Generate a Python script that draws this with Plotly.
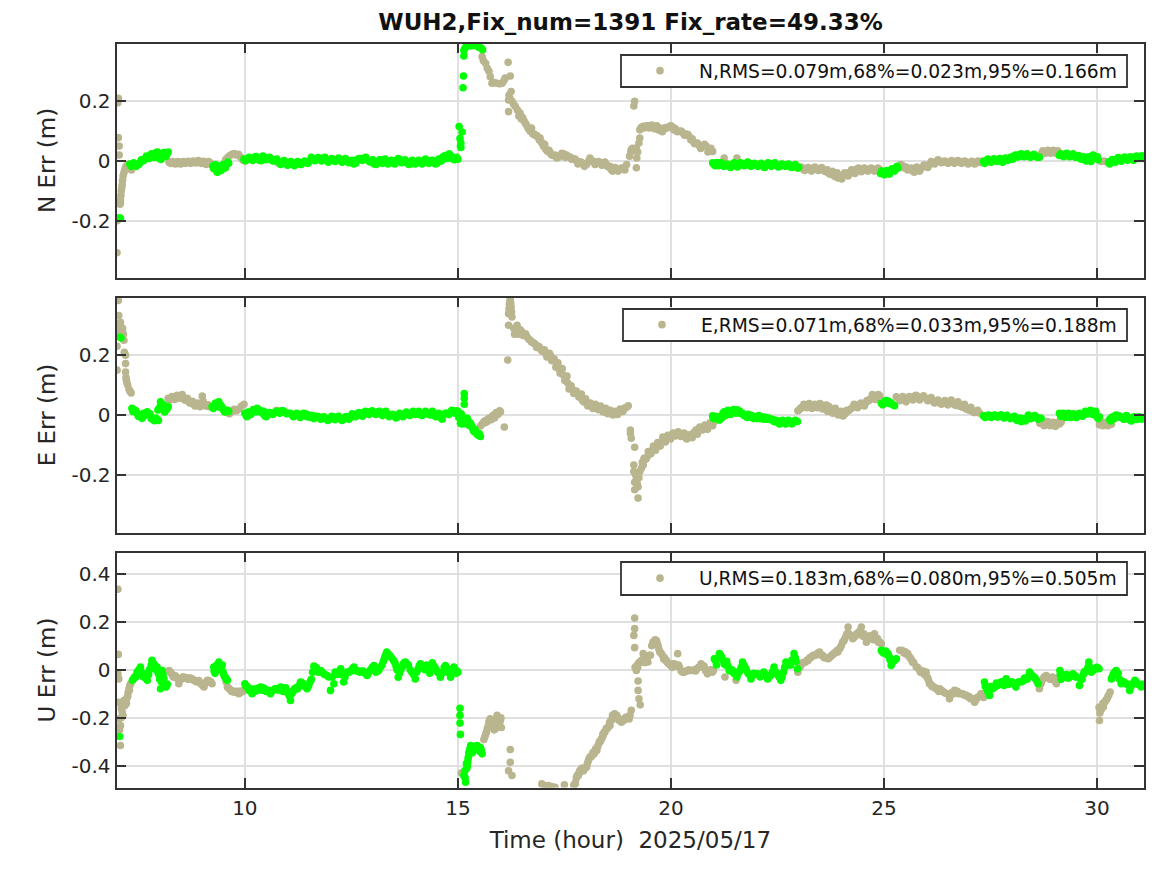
import plotly.graph_objects as go

TITLE = "WUH2,Fix_num=1391 Fix_rate=49.33%"
XLABEL = "Time (hour)  2025/05/17"
X_TICKS = [10, 15, 20, 25, 30]
N_TICKS = [-0.2, 0, 0.2]
E_TICKS = [-0.2, 0, 0.2]
U_TICKS = [-0.4, -0.2, 0, 0.2, 0.4]
N_TICKTEXT = ["-0.2", "0", "0.2"]
E_TICKTEXT = ["-0.2", "0", "0.2"]
U_TICKTEXT = ["-0.4", "-0.2", "0", "0.2", "0.4"]
N_NAME = "N,RMS=0.079m,68%=0.023m,95%=0.166m"
E_NAME = "E,RMS=0.071m,68%=0.033m,95%=0.188m"
U_NAME = "U,RMS=0.183m,68%=0.080m,95%=0.505m"

n_float_t = [7.0,7.0,7.02,7.03,7.03,7.05,7.05,7.07,7.08,7.08,7.09,7.1,7.11,7.12,7.13,7.14,7.16,7.18,7.2,7.23,7.26,7.3,7.34,
 8.22,8.28,8.34,8.4,8.46,8.52,8.58,8.64,8.7,8.76,8.82,8.88,8.94,9.0,9.06,9.12,9.18,9.22,
 9.55,9.6,9.65,9.7,9.75,9.8,9.85,9.9,9.95,10.0,10.72,10.78,
 15.57,15.6,15.65,15.69,15.73,15.76,15.8,15.86,15.92,15.98,16.04,16.08,16.11,16.18,16.19,16.19,16.2,16.22,16.23,16.25,16.27,16.31,16.35,16.4,16.46,16.52,16.58,16.64,16.7,16.76,16.82,16.88,16.93,16.97,17.01,17.06,17.11,17.17,17.24,17.32,17.4,17.48,17.55,17.63,17.7,17.79,17.85,17.92,18.02,18.06,18.1,18.18,18.26,18.34,18.41,18.48,18.54,18.6,18.66,18.72,18.8,18.88,18.96,19.03,19.06,19.07,19.1,19.13,19.15,19.17,19.19,19.19,19.2,19.22,19.25,19.27,19.27,19.3,19.35,19.4,19.46,19.52,19.58,19.64,19.7,19.77,19.83,19.9,19.97,20.03,20.1,20.2,20.28,20.36,20.43,20.5,20.59,20.66,20.74,20.83,20.9,20.98,21.25,21.55,
 23.02,23.1,23.18,23.26,23.34,23.42,23.5,23.57,23.64,23.7,23.76,23.82,23.87,23.92,23.98,24.04,24.12,24.2,24.28,24.36,24.43,24.5,24.58,24.66,24.74,24.82,24.9,
 25.34,25.37,25.44,25.52,25.6,25.68,25.74,25.8,25.88,25.99,26.07,26.15,26.23,26.31,26.39,26.47,26.55,26.62,26.7,26.78,26.86,26.94,27.02,27.09,27.17,27.25,27.32,
 28.7,28.76,28.82,28.88,28.94,29.0,29.06,29.1,30.1,30.17,30.24]
n_float_v = [-.307,-.2,.195,.21,.078,.05,.02,-.145,-.14,-.13,-.115,-.1,-.09,-.08,-.065,-.05,-.04,-.03,-.02,-.015,-.012,-.02,-.03,
 -.004,-.006,-.008,-.005,-.006,-.008,-.005,-.004,-.005,-.002,-.003,-.002,-.004,-.003,-.008,-.006,-.005,-.012,
 .005,.012,.018,.022,.025,.02,.022,.012,.003,0,-.002,-.006,
 .349,.335,.327,.31,.3,.282,.26,.262,.26,.258,.26,.268,.277,.33,.165,.204,.22,.21,.284,.232,.2,.19,.182,.17,.16,.145,.127,.112,.099,.09,.085,.08,.077,.06,.049,.04,.032,.027,.018,.01,.018,.024,.02,.013,.008,0,-.004,-.008,-.012,-.003,.01,-.001,-.007,-.005,-.007,-.012,-.02,-.029,-.028,-.032,-.029,-.025,-.012,.016,.03,.038,.042,.184,.2,.04,-.023,.043,.01,.03,.06,.077,.104,.112,.116,.114,.118,.115,.116,.112,.104,.1,.106,.11,.116,.114,.108,.099,.094,.09,.082,.074,.06,.052,.05,.049,.04,.032,.01,.01,
 -.022,-.027,-.026,-.028,-.025,-.026,-.029,-.03,-.036,-.04,-.045,-.04,-.05,-.057,-.05,-.046,-.046,-.038,-.032,-.028,-.029,-.03,-.028,-.03,-.028,-.03,-.029,
 -.02,-.018,-.016,-.02,-.026,-.034,-.03,-.028,-.024,-.018,-.012,-.006,-.003,0,-.002,-.005,-.003,-.004,-.002,-.004,-.003,-.006,-.005,-.004,-.006,-.003,0,
 .026,.03,.031,.03,.033,.029,.032,.028,-.002,0,-.004]
n_float2_t = [8.25,8.31,8.37,8.43,8.49,8.55,8.61,8.67,8.73,8.79,8.85,8.91,8.97,9.03,9.09,9.15,
 16.43,16.49,16.55,16.61,16.67,16.73,16.79,16.85,16.91,16.99,17.04,17.09,17.14,17.2,17.28,17.36,17.44,17.52,17.59,17.67,17.75,17.82,17.89,17.97,18.14,18.22,18.3,18.38,18.45,18.51,18.57,18.63,18.69,18.76,18.84,18.92,
 19.37,19.43,19.49,19.55,19.61,19.67,19.74,19.8,19.87,19.94,20.0,20.07,20.15,20.24,20.32,20.4,20.47,20.55,20.62,20.7,20.79,20.87,20.94,
 23.06,23.14,23.22,23.3,23.38,23.46,23.54,23.61,23.67,23.73,23.79,23.85,23.9,23.95,24.01,24.08,24.16,24.24,24.32,24.4,24.47,24.54,24.62,24.7,24.78,24.86,
 25.4,25.48,25.56,25.64,25.71,25.77,25.84,25.94,26.03,26.11,26.19,26.27,26.35,26.43,26.51,26.59,26.66,26.74,26.82,26.9,26.98,27.06,27.13,27.21,27.29,
 28.73,28.79,28.85,28.91,28.97,29.03,29.08]
n_float2_v = [-.008,-.002,-.01,-.002,-.01,-.002,-.008,-.001,-.008,.0,-.007,.001,-.008,-.001,-.012,-.002,
 .15,.14,.135,.12,.105,.11,.09,.085,.07,.06,.055,.035,.036,.02,.02,.012,.026,.012,.015,.006,.006,-.01,-.004,-.018,.0,-.012,-.002,-.014,-.004,-.018,-.018,-.034,-.022,-.034,-.024,-.03,
 .11,.118,.11,.12,.108,.118,.11,.098,.112,.112,.118,.104,.098,.1,.086,.088,.07,.058,.06,.042,.056,.03,.042,
 -.02,-.032,-.022,-.034,-.02,-.032,-.022,-.034,-.03,-.044,-.035,-.052,-.04,-.05,-.06,-.04,-.05,-.03,-.042,-.024,-.036,-.024,-.034,-.024,-.034,-.024,
 -.012,-.024,-.03,-.024,-.038,-.02,-.034,-.014,-.022,-.002,-.01,.004,-.006,.0,-.008,.001,-.008,.001,-.008,.0,-.01,-.001,-.01,.0,-.006,
 .034,.026,.036,.026,.036,.026,.034]
n_fix_t = [7.05,7.08,7.3,7.36,7.42,7.48,7.54,7.6,7.66,7.72,7.78,7.84,7.9,7.95,8.0,8.03,8.07,8.12,8.17,8.2,
 9.25,9.29,9.33,9.37,9.41,9.46,9.51,9.56,9.62,
 9.98,10.06,10.14,10.22,10.3,10.38,10.46,10.54,10.62,10.7,10.8,10.88,10.96,11.04,11.12,11.2,11.28,11.36,11.44,11.52,11.6,11.68,11.76,11.84,11.92,12.0,12.08,12.16,12.24,12.32,12.4,12.48,12.56,12.64,12.72,12.8,12.88,12.96,13.04,13.12,13.2,13.26,13.32,13.4,13.48,13.56,13.64,13.72,13.8,13.89,13.96,14.04,14.12,14.2,14.28,14.36,14.44,14.52,14.58,14.64,14.72,14.78,14.83,14.88,14.94,15.0,
 15.03,15.05,15.06,15.07,15.07,15.1,15.12,15.13,15.14,15.14,15.17,15.2,15.25,15.3,15.35,15.4,15.45,15.5,15.55,15.58,
 20.98,21.02,21.06,21.1,21.15,21.2,21.28,21.36,21.44,21.52,21.6,21.68,21.76,21.84,21.92,22.0,22.08,22.16,22.24,22.32,22.4,22.48,22.56,22.64,22.72,22.8,22.88,22.96,23.0,
 24.92,24.98,25.04,25.1,25.16,25.22,25.28,25.33,
 27.34,27.4,27.47,27.54,27.61,27.68,27.75,27.82,27.87,27.94,28.0,28.06,28.12,28.18,28.25,28.32,28.4,28.48,28.56,28.65,
 29.12,29.18,29.25,29.32,29.4,29.47,29.54,29.6,29.66,29.72,29.78,29.83,29.88,29.94,29.99,30.03,
 30.28,30.33,30.4,30.47,30.54,30.61,30.68,30.75,30.82,30.89,30.96,31.03,31.08]
n_fix_v = [-.19,-.192,-.01,-.015,-.012,-.012,-.005,.0,.008,.012,.018,.02,.022,.03,.02,.005,.012,.025,.022,.03,
 -.018,-.02,-.025,-.035,-.028,-.022,-.02,-.012,-.008,
 .006,.007,.008,.012,.008,.001,.012,.01,.005,.002,-.004,-.008,-.005,-.012,-.007,-.012,-.008,-.005,-.006,0,.008,.006,.005,.01,.002,.001,.004,.003,.005,0,-.002,-.004,-.01,.005,.008,.009,.003,-.004,-.01,-.006,.002,.001,-.005,-.006,-.006,.002,.005,-.002,-.006,-.01,-.004,-.006,-.006,-.003,.002,-.004,-.007,-.006,.002,.012,.018,.02,.01,.008,.005,.006,
 .115,.075,.05,.06,.045,.097,.245,.284,.351,.37,.378,.385,.387,.385,.388,.386,.388,.38,.378,.372,
 -.006,-.01,-.012,-.01,-.014,-.012,-.016,-.018,-.012,-.014,-.01,-.012,-.01,-.008,-.014,-.012,-.012,-.018,-.012,-.014,-.01,-.014,-.018,-.012,-.014,-.019,-.016,-.02,-.021,
 -.042,-.042,-.038,-.038,-.032,-.03,-.025,-.024,
 -.002,.001,.0,.002,.002,.004,.0,.005,.008,.006,.012,.016,.019,.02,.018,.019,.016,.018,.017,.012,
 .018,.02,.021,.02,.018,.017,.012,.012,.009,.004,.01,.002,.015,.016,.008,.004,
 -.004,0,.002,.006,.004,.008,.006,.01,.008,.012,.014,.014,.008]
n_fix2_t = [7.33,7.39,7.45,7.51,7.57,7.63,7.69,7.75,7.81,7.87,7.92,7.98,8.05,8.1,8.15,
 9.27,9.31,9.35,9.39,9.44,9.49,9.54,9.6,
 10.02,10.1,10.18,10.26,10.34,10.42,10.5,10.58,10.66,10.75,10.84,10.92,11.0,11.08,11.16,11.24,11.32,11.4,11.48,11.56,11.64,11.72,11.8,11.88,11.96,12.04,12.12,12.2,12.28,12.36,12.44,12.52,12.6,12.68,12.76,12.84,12.92,13.0,13.08,13.16,13.23,13.29,13.36,13.44,13.52,13.6,13.68,13.76,13.85,13.93,14.0,14.08,14.16,14.24,14.32,14.4,14.48,14.55,14.61,14.68,14.75,14.8,14.86,14.91,14.97,
 21.0,21.04,21.08,21.12,21.18,21.24,21.32,21.4,21.48,21.56,21.64,21.72,21.8,21.88,21.96,22.04,22.12,22.2,22.28,22.36,22.44,22.52,22.6,22.68,22.76,22.84,22.92,22.98,
 24.95,25.01,25.07,25.13,25.19,25.25,25.31,
 27.37,27.44,27.51,27.58,27.65,27.72,27.79,27.85,27.91,27.97,28.03,28.09,28.15,28.22,28.29,28.36,28.44,28.52,28.6,
 29.15,29.22,29.29,29.36,29.44,29.5,29.57,29.63,29.69,29.75,29.81,29.86,29.91,29.97,30.01,
 30.3,30.36,30.43,30.5,30.57,30.65,30.72,30.79,30.86,30.93,31.0,31.06]
n_fix2_v = [-.018,-.006,-.018,-.012,.004,.002,.016,.008,.024,.012,.028,.01,.014,.028,.016,
 -.026,-.012,-.038,-.018,-.032,-.012,-.024,-.004,
 .001,.012,.002,.015,.002,.016,.004,.012,.0,.006,-.012,.001,-.014,-.002,-.016,-.002,-.012,.0,-.008,.012,.001,.011,.0,.012,-.004,.008,-.002,.01,-.004,.008,-.006,.002,-.008,.008,.002,.012,-.002,.004,-.012,.004,-.008,.006,-.01,.002,-.01,.008,-.006,.004,-.012,.002,-.01,.002,-.01,.006,-.008,.002,-.01,.006,.0,.016,.008,.024,.014,.004,.012,
 -.01,-.016,-.005,-.016,-.006,-.018,-.01,-.022,-.006,-.02,-.006,-.016,-.004,-.018,-.008,-.018,-.008,-.022,-.006,-.018,-.006,-.02,-.01,-.018,-.01,-.022,-.012,-.024,
 -.034,-.046,-.032,-.044,-.026,-.034,-.018,
 -.008,.006,-.004,.007,-.002,.008,-.004,.01,.002,.012,.006,.02,.013,.024,.014,.024,.012,.022,.012,
 .024,.014,.026,.014,.024,.012,.018,.006,.014,.0,.014,-.002,.02,.01,.014,
 -.01,.005,-.004,.011,-.001,.013,.002,.014,.002,.016,.008,.017]

e_float_t = [7.0,7.0,7.0,7.03,7.03,7.04,7.06,7.08,7.09,7.1,7.12,7.13,7.15,7.16,7.17,7.18,7.2,7.2,7.2,7.21,7.22,7.23,7.25,7.28,7.3,7.33,
 8.2,8.26,8.32,8.38,8.44,8.5,8.56,8.62,8.68,8.74,8.8,8.86,8.92,9.0,9.0,9.05,9.11,9.17,
 9.58,9.64,9.7,9.75,9.8,9.86,9.92,9.98,10.75,
 15.53,15.57,15.61,15.66,15.71,15.76,15.8,15.84,15.88,15.92,15.96,16.0,16.09,16.17,16.19,16.19,16.2,16.21,16.22,16.23,16.24,16.25,16.26,16.27,16.31,16.35,16.39,16.44,16.5,16.56,16.62,16.7,16.76,16.82,16.88,16.93,17.0,17.06,17.12,17.17,17.23,17.28,17.32,17.37,17.42,17.48,17.53,17.58,17.63,17.69,17.75,17.81,17.87,17.92,17.97,18.02,18.08,18.14,18.2,18.26,18.32,18.38,18.44,18.49,18.55,18.61,18.67,18.72,18.78,18.84,18.9,18.96,19.0,
 19.05,19.05,19.07,19.15,19.13,19.13,19.15,19.15,19.17,19.19,19.21,19.23,19.23,19.25,19.27,19.31,19.35,19.39,19.44,19.5,19.56,19.61,19.66,19.72,19.78,19.84,19.89,19.96,20.02,20.08,20.13,20.2,20.27,20.34,20.4,20.46,20.53,20.59,20.65,20.71,20.77,20.83,20.89,20.95,21.02,21.18,
 22.98,23.02,23.08,23.15,23.22,23.28,23.34,23.41,23.47,23.53,23.59,23.65,23.71,23.77,23.83,23.89,23.96,24.04,24.1,24.17,24.27,24.34,24.42,24.5,24.57,24.64,24.7,24.77,24.84,24.9,
 25.29,25.34,25.4,25.49,25.56,25.64,25.72,25.8,25.88,25.99,26.07,26.15,26.23,26.31,26.39,26.47,26.54,26.62,26.7,26.78,26.85,26.93,27.0,27.08,27.16,27.25,
 28.66,28.73,28.8,28.87,28.94,29.0,29.06,29.12,29.16,30.06,30.11,30.17,30.23,30.29,30.34]
e_float_v = [.15,.23,.289,.383,.28,.333,.3,.31,.27,.285,.283,.29,.27,.25,.21,.205,.2,.172,.144,.125,.117,.108,.1,.086,.08,.074,
 .056,.056,.06,.062,.063,.063,.055,.05,.044,.04,.036,.033,.034,.063,.04,.036,.03,.028,
 .008,.004,.012,.019,.014,.02,.03,.036,.016,
 -.037,-.03,-.022,-.018,-.014,-.011,-.008,-.004,.003,.006,.009,.011,-.04,.184,.3,.339,.355,.37,.38,.389,.375,.361,.345,.328,.29,.278,.3,.285,.278,.27,.262,.25,.242,.236,.23,.222,.212,.206,.2,.2,.188,.18,.172,.155,.145,.133,.12,.107,.094,.085,.076,.072,.067,.05,.045,.039,.036,.034,.03,.028,.024,.02,.015,.011,.008,.008,.006,.006,.008,.014,.02,.026,.031,
 -.05,-.062,-.078,-.108,-.167,-.189,-.25,-.225,-.2,-.215,-.23,-.278,-.24,-.21,-.189,-.178,-.167,-.15,-.14,-.128,-.118,-.112,-.106,-.096,-.09,-.082,-.078,-.074,-.07,-.064,-.061,-.066,-.068,-.07,-.074,-.068,-.06,-.05,-.046,-.042,-.042,-.041,-.036,-.03,-.022,-.012,
 .014,.018,.024,.03,.033,.028,.028,.026,.028,.03,.032,.033,.028,.02,.017,.012,.008,-.003,.006,.014,.026,.028,.032,.033,.04,.048,.056,.06,.063,.064,
 .061,.055,.05,.05,.055,.058,.063,.06,.058,.056,.05,.046,.044,.041,.04,.042,.044,.038,.032,.03,.026,.02,.016,.012,.01,.006,
 -.028,-.03,-.026,-.028,-.033,-.036,-.026,-.03,-.024,-.033,-.03,-.031,-.032,-.03,-.031]
e_float2_t = [8.23,8.29,8.35,8.41,8.47,8.53,8.59,8.65,8.71,8.77,8.83,8.89,8.95,9.02,9.08,9.14,
 15.64,15.69,15.74,15.78,15.82,15.86,15.9,15.94,15.98,
 16.33,16.37,16.42,16.47,16.53,16.59,16.66,16.73,16.79,16.85,16.91,16.97,17.03,17.09,17.15,17.2,17.26,17.3,17.35,17.4,17.45,17.51,17.56,17.61,17.66,17.72,17.78,17.84,17.9,17.95,18.0,18.05,18.11,18.17,18.23,18.29,18.35,18.41,18.47,18.52,18.58,18.64,18.7,18.75,18.81,18.87,18.93,
 19.33,19.37,19.42,19.47,19.53,19.59,19.64,19.69,19.75,19.81,19.87,19.93,19.99,20.05,20.11,20.17,20.24,20.31,20.37,20.43,20.5,20.56,20.62,20.68,20.74,20.8,20.86,20.92,20.98,
 23.05,23.12,23.19,23.25,23.31,23.38,23.44,23.5,23.56,23.62,23.68,23.74,23.8,23.86,23.93,24.0,24.07,24.13,24.22,24.3,24.38,24.46,24.54,24.6,24.67,24.73,24.8,24.87,
 25.37,25.44,25.52,25.6,25.68,25.76,25.84,25.93,26.03,26.11,26.19,26.27,26.35,26.43,26.5,26.58,26.66,26.74,26.82,26.89,26.96,27.04,27.12,27.2,
 28.7,28.76,28.84,28.9,28.97,29.03,29.09,30.08,30.14,30.2,30.26,30.32]
e_float2_v = [.05,.062,.052,.066,.056,.068,.05,.056,.04,.046,.03,.04,.028,.046,.03,.034,
 -.026,-.022,-.01,-.016,-.002,-.01,.008,.002,.014,
 .27,.286,.27,.284,.266,.272,.254,.244,.24,.226,.228,.215,.218,.194,.206,.182,.188,.16,.175,.14,.155,.115,.13,.087,.098,.072,.08,.06,.07,.044,.054,.03,.04,.022,.036,.018,.03,.01,.022,.004,.016,.0,.012,.002,.02,.012,.024,
 -.158,-.145,-.146,-.122,-.13,-.104,-.118,-.092,-.104,-.074,-.09,-.068,-.08,-.06,-.07,-.056,-.072,-.06,-.08,-.066,-.076,-.056,-.064,-.04,-.05,-.034,-.048,-.026,-.036,
 .024,.036,.024,.038,.022,.036,.024,.038,.02,.032,.012,.022,.006,.022,.0,.012,.002,.016,.02,.036,.024,.04,.03,.048,.052,.068,.052,.068,
 .048,.062,.044,.062,.05,.066,.05,.064,.048,.058,.04,.05,.036,.048,.034,.05,.034,.044,.028,.036,.02,.026,.008,.016,
 -.022,-.036,-.022,-.036,-.024,-.038,-.024,-.025,-.036,-.024,-.036,-.024]
e_fix_t = [7.07,7.09,7.35,7.4,7.47,7.53,7.59,7.65,7.71,7.77,7.83,7.88,7.94,7.96,8.0,8.02,8.06,8.1,8.15,8.2,
 9.23,9.29,9.34,9.39,9.44,9.5,9.56,9.62,
 10.0,10.05,10.1,10.17,10.23,10.29,10.35,10.41,10.47,10.54,10.62,10.7,10.78,10.86,10.94,11.02,11.1,11.18,11.26,11.34,11.42,11.5,11.58,11.66,11.74,11.82,11.9,12.0,12.08,12.16,12.24,12.32,12.4,12.48,12.56,12.64,12.72,12.8,12.87,12.95,13.03,13.11,13.19,13.27,13.35,13.43,13.51,13.59,13.67,13.75,13.83,13.91,13.98,14.04,14.12,14.2,14.28,14.36,14.44,14.52,14.59,14.67,14.75,14.83,14.9,14.96,15.0,
 15.15,15.15,15.15,15.06,15.1,15.13,15.18,15.22,15.26,15.3,15.34,15.38,15.43,15.48,15.53,15.02,15.08,
 20.98,21.03,21.08,21.14,21.2,21.25,21.3,21.37,21.44,21.5,21.56,21.62,21.68,21.76,21.82,21.9,21.98,22.06,22.15,22.22,22.3,22.38,22.46,22.52,22.58,22.65,22.72,22.8,22.88,22.97,
 24.94,25.0,25.05,25.11,25.17,25.25,
 27.34,27.41,27.48,27.55,27.62,27.71,27.78,27.85,27.92,28.03,28.1,28.16,28.22,28.28,28.35,28.42,28.5,28.58,28.65,28.69,
 29.12,29.18,29.24,29.3,29.36,29.42,29.48,29.55,29.62,29.69,29.76,29.82,29.87,29.93,30.0,30.06,
 30.3,30.35,30.4,30.45,30.52,30.59,30.66,30.72,30.77,30.84,30.9,30.96,31.02,31.08]
e_fix_v = [.26,.258,.022,.015,.006,.0,-.011,-.002,.011,.004,-.01,-.019,-.017,.017,.025,.044,.03,.017,.022,.028,
 .028,.03,.036,.044,.032,.017,.014,.012,
 .006,-.006,.004,.012,.016,.022,.016,.006,-.003,.002,.005,.008,.01,.014,.01,.006,.002,.0,-.002,.002,.004,.0,-.002,-.004,-.006,-.01,-.012,-.014,-.006,-.01,-.012,-.014,-.006,-.008,.0,.004,.002,.008,.011,.01,.006,.004,.006,.01,.004,-.001,-.003,-.004,.0,.002,.005,.004,.008,.006,.002,.004,.008,.0,.0,-.004,-.008,.002,.006,.011,.01,.014,.012,
 .072,.056,.036,-.028,-.02,-.024,-.012,-.011,-.033,-.028,-.042,-.056,-.058,-.068,-.072,-.008,.004,
 -.003,-.01,-.008,-.017,-.008,.011,.004,.012,.008,.014,.017,.012,.006,-.003,.002,-.002,-.006,-.002,-.006,-.008,-.01,-.014,-.018,-.02,-.028,-.022,-.026,-.024,-.022,-.022,
 .039,.042,.048,.046,.04,.031,
 -.003,-.006,-.002,-.004,-.002,-.003,-.006,-.006,-.008,-.008,-.014,-.016,-.022,-.016,-.012,-.006,-.006,-.008,-.01,-.011,
 .006,0,-.002,.0,-.003,-.004,-.006,0,.004,.0,.008,.011,.01,.006,-.006,-.006,
 -.014,-.008,-.004,0,-.003,-.008,-.012,-.006,-.017,-.012,-.01,-.012,-.008,-.009]
e_fix2_t = [7.37,7.43,7.5,7.56,7.62,7.68,7.74,7.8,7.85,7.91,7.97,8.04,8.08,8.12,8.17,
 9.26,9.31,9.36,9.41,9.47,9.53,9.59,
 10.03,10.08,10.14,10.2,10.26,10.32,10.38,10.44,10.5,10.58,10.66,10.74,10.82,10.9,10.98,11.06,11.14,11.22,11.3,11.38,11.46,11.54,11.62,11.7,11.78,11.86,11.95,12.04,12.12,12.2,12.28,12.36,12.44,12.52,12.6,12.68,12.76,12.83,12.91,12.99,13.07,13.15,13.23,13.31,13.39,13.47,13.55,13.63,13.71,13.79,13.87,13.95,14.01,14.08,14.16,14.24,14.32,14.4,14.48,14.55,14.63,14.71,14.79,14.86,14.93,
 15.1,15.14,15.2,15.24,15.28,15.32,15.36,15.4,15.45,15.5,
 21.0,21.06,21.11,21.17,21.22,21.28,21.34,21.4,21.47,21.53,21.59,21.65,21.72,21.79,21.86,21.94,22.02,22.1,22.18,22.26,22.34,22.42,22.49,22.55,22.62,22.69,22.76,22.84,22.92,
 24.97,25.03,25.08,25.14,25.21,
 27.38,27.45,27.52,27.59,27.66,27.75,27.82,27.89,27.97,28.06,28.13,28.19,28.25,28.32,28.39,28.46,28.54,28.62,
 29.15,29.21,29.27,29.33,29.39,29.45,29.52,29.59,29.66,29.73,29.79,29.85,29.9,29.97,30.03,
 30.32,30.38,30.43,30.49,30.56,30.63,30.69,30.75,30.81,30.87,30.93,30.99,31.05]
e_fix2_v = [.012,.016,-.004,-.008,.006,.006,.002,-.012,-.016,-.01,-.018,.03,.036,.01,.02,
 .022,.04,.034,.026,.024,.01,.016,
 -.002,.01,.002,.018,.01,.014,.01,.012,-.006,.008,.002,.012,.006,.014,.004,.006,-.006,.006,-.008,.006,-.006,-.008,-.012,-.004,-.014,-.006,-.018,-.004,-.016,-.004,-.018,-.006,-.014,.004,-.006,.008,-.004,.012,.002,.014,.002,.012,-.002,.012,-.006,.002,-.01,.006,-.006,.01,-.002,.012,.002,.012,-.002,.012,.002,.012,-.006,.006,-.014,.006,.002,.016,.006,
 -.03,-.016,-.03,-.02,-.036,-.036,-.05,-.048,-.064,-.062,
 -.012,-.004,-.014,-.012,.006,-.002,.016,.002,.018,.006,.01,.004,-.002,-.008,-.006,-.012,-.012,-.012,-.014,-.014,-.016,-.022,-.024,-.03,-.018,-.03,-.018,-.03,-.018,
 .034,.047,.04,.038,.034,
 -.008,.0,-.008,.0,-.007,.001,-.01,-.001,-.012,-.004,-.018,-.01,-.012,-.02,.0,-.012,-.002,-.014,
 -.004,.006,-.008,.006,-.008,.004,-.008,.006,-.004,.012,.004,.016,.002,.012,-.012,
 -.02,-.014,-.01,-.002,-.008,-.014,-.002,-.012,-.02,-.006,-.015,-.006,-.014]

u_float_t = [7.02,7.03,7.02,7.04,7.04,7.04,7.06,7.08,7.08,7.1,7.12,7.14,7.16,7.18,7.2,7.22,7.24,7.26,7.28,7.3,7.32,
 8.22,8.27,8.32,8.37,8.45,8.51,8.57,8.63,8.69,8.75,8.8,8.86,8.92,8.98,9.04,9.08,9.12,9.18,9.23,
 9.56,9.59,9.64,9.69,9.74,9.8,9.86,9.92,9.97,
 15.08,15.61,15.65,15.69,15.73,15.76,15.8,15.85,15.88,15.92,15.96,16.0,16.02,
 16.23,16.23,16.19,16.27,16.97,17.03,17.08,17.13,17.2,17.28,17.5,17.72,17.75,17.78,17.81,17.84,17.87,17.91,17.95,18.02,18.06,18.1,18.14,18.2,18.26,18.3,18.34,18.38,18.41,18.45,18.5,18.54,18.57,18.61,18.65,18.68,18.73,18.78,18.84,18.9,18.96,19.02,19.07,
 19.28,19.25,19.23,19.23,19.15,19.13,19.15,19.15,19.16,19.19,19.21,19.25,19.31,19.35,19.4,19.46,19.52,19.58,19.63,19.66,19.7,19.74,19.8,19.85,19.89,19.95,20.0,20.05,20.12,20.16,20.2,20.28,20.35,20.42,20.51,20.58,20.65,20.71,20.78,20.86,20.93,21.0,21.27,21.53,
 22.98,23.05,23.1,23.16,23.22,23.28,23.34,23.42,23.49,23.56,23.63,23.69,23.75,23.81,23.87,23.92,23.97,24.03,24.08,24.13,24.16,24.22,24.27,24.33,24.4,24.47,24.53,24.59,24.65,24.72,24.78,24.85,24.9,24.94,
 25.37,25.43,25.5,25.56,25.62,25.68,25.76,25.83,25.92,25.99,26.03,26.07,26.13,26.2,26.26,26.31,26.38,26.45,26.54,26.6,26.66,26.72,26.79,26.85,26.92,26.99,27.06,27.13,27.2,27.28,27.34,
 28.65,28.7,28.76,28.81,28.87,28.93,29.0,29.05,29.1,30.06,30.05,30.08,30.12,30.15,30.18,30.22,30.26,30.31]
u_float_v = [.335,.064,-.017,-.038,-.135,-.204,-.25,-.315,-.232,-.2,-.176,-.19,-.128,-.15,-.125,-.14,-.114,-.095,-.079,-.065,-.058,
 -.003,-.015,-.03,-.025,-.058,-.04,-.03,-.035,-.035,-.04,-.044,-.05,-.045,-.06,-.072,-.055,-.044,-.05,-.058,
 -.05,-.072,-.08,-.09,-.093,-.095,-.1,-.093,-.085,
 -.43,-.29,-.27,-.246,-.22,-.204,-.22,-.25,-.246,-.19,-.23,-.21,-.24,
 -.332,-.385,-.42,-.44,-.475,-.482,-.484,-.482,-.486,-.489,-.479,-.48,-.475,-.45,-.44,-.43,-.426,-.41,-.42,-.406,-.38,-.364,-.36,-.35,-.336,-.31,-.3,-.285,-.274,-.26,-.245,-.235,-.232,-.21,-.195,-.183,-.19,-.21,-.218,-.21,-.197,-.205,-.169,
 -.146,-.121,-.086,-.047,.092,.143,.171,.215,.01,-.003,.02,.03,.039,.067,.03,.032,.06,.115,.125,.122,.1,.074,.06,.05,.039,.025,.02,.025,.015,.067,.01,-.01,-.005,0,-.003,-.005,.01,.025,.015,-.017,.0,-.003,-.03,-.044,
 -.01,.02,.03,.032,.039,.05,.06,.062,.074,.06,.05,.046,.055,.065,.074,.074,.09,.115,.129,.15,.178,.14,.129,.14,.155,.178,.15,.115,.14,.14,.15,.13,.115,.108,
 .081,.08,.075,.067,.05,.03,.011,0,-.005,-.01,-.035,-.058,-.07,-.075,-.08,-.079,-.09,-.098,-.121,-.095,-.086,-.09,-.098,-.1,-.105,-.11,-.12,-.135,-.115,-.1,-.115,
 -.079,-.05,-.03,-.024,-.035,-.04,-.04,-.058,-.04,-.211,-.156,-.17,-.15,-.155,-.135,-.125,-.11,-.093]
u_float2_t = [7.1,7.13,7.17,7.21,7.25,7.29,8.25,8.3,8.35,8.4,8.48,8.54,8.6,8.66,8.72,8.78,8.83,8.89,8.95,9.01,9.06,9.1,9.15,9.2,
 9.61,9.67,9.72,9.77,9.83,9.89,9.95,15.63,15.67,15.71,15.74,15.78,15.83,15.87,15.9,15.94,15.98,16.01,
 17.76,17.8,17.83,17.86,17.89,17.93,17.98,18.04,18.08,18.12,18.17,18.23,18.28,18.32,18.36,18.4,18.43,18.48,18.52,18.56,18.59,18.63,18.67,18.71,18.76,18.81,18.87,18.93,18.99,19.04,
 19.22,19.28,19.33,19.38,19.43,19.49,19.55,19.6,19.68,19.72,19.77,19.83,19.87,19.92,19.98,20.03,20.08,20.14,20.18,20.24,20.31,20.38,20.46,20.55,20.62,20.68,20.75,20.82,20.9,20.97,
 23.03,23.08,23.13,23.2,23.26,23.31,23.38,23.45,23.53,23.6,23.66,23.72,23.78,23.84,23.9,23.95,24.0,24.06,24.11,24.18,24.24,24.3,24.36,24.43,24.5,24.56,24.62,24.68,24.75,24.81,24.87,
 25.41,25.47,25.53,25.59,25.65,25.7,25.79,25.86,25.95,26.01,26.05,26.1,26.16,26.23,26.29,26.35,26.42,26.49,26.57,26.63,26.69,26.75,26.82,26.88,26.95,27.02,27.09,27.16,27.24,27.31,
 28.68,28.73,28.79,28.84,28.9,28.96,29.03,29.08,30.07,30.1,30.14,30.2,30.24,30.28]
u_float2_v = [-.16,-.15,-.14,-.13,-.11,-.085,-.01,-.02,-.03,-.035,-.04,-.03,-.035,-.04,-.035,-.04,-.045,-.05,-.055,-.065,-.06,-.05,-.045,-.05,
 -.075,-.085,-.09,-.09,-.09,-.09,-.09,-.28,-.26,-.235,-.21,-.22,-.23,-.22,-.21,-.21,-.22,-.2,
 -.47,-.44,-.44,-.42,-.415,-.41,-.41,-.39,-.37,-.36,-.345,-.33,-.32,-.3,-.29,-.27,-.26,-.245,-.24,-.22,-.21,-.19,-.19,-.2,-.2,-.21,-.21,-.2,-.2,-.19,
 .01,.03,.04,.03,.04,.06,.1,.11,.11,.085,.07,.045,.04,.03,.02,.01,.025,.02,.02,-.005,-.01,-.005,-.003,.0,.005,.01,.01,-.005,-.005,-.01,
 .01,.025,.03,.04,.05,.055,.06,.07,.06,.05,.05,.05,.06,.07,.08,.085,.1,.12,.14,.15,.14,.135,.15,.16,.14,.135,.13,.14,.125,.125,.115,
 .08,.07,.065,.055,.04,.03,.01,-.01,-.02,-.03,-.045,-.06,-.07,-.08,-.09,-.085,-.095,-.1,-.105,-.1,-.09,-.1,-.1,-.105,-.11,-.12,-.12,-.125,-.11,-.1,
 -.06,-.04,-.03,-.03,-.04,-.03,-.05,-.035,-.18,-.165,-.14,-.13,-.12,-.105]
u_fix_t = [7.06,7.36,7.41,7.47,7.51,7.55,7.6,7.65,7.71,7.76,7.82,7.88,7.94,7.98,8.02,8.06,8.1,8.14,8.18,
 9.27,9.3,9.34,9.39,9.43,9.47,9.51,9.55,9.59,
 10.0,10.06,10.12,10.17,10.23,10.3,10.37,10.43,10.5,10.55,10.6,10.67,10.73,10.79,10.84,10.9,10.96,11.02,11.07,11.13,11.2,11.26,11.31,11.38,11.46,11.5,11.56,11.62,11.68,11.73,11.78,11.84,11.93,12.01,12.09,12.12,12.19,12.25,12.32,12.38,12.44,12.5,12.56,12.62,12.7,12.78,12.87,12.95,13.03,13.08,13.15,13.22,13.28,13.33,13.4,13.49,13.55,13.6,13.66,13.72,13.77,13.84,13.92,14.0,14.06,14.12,14.2,14.27,14.34,14.4,14.46,14.52,14.59,14.65,14.71,14.77,14.83,14.88,14.91,14.96,15.0,
 15.05,15.05,15.05,15.06,15.14,15.18,15.16,15.2,15.22,15.24,15.26,15.28,15.3,15.34,15.38,15.42,15.45,15.5,15.53,15.57,
 21.02,21.07,21.14,21.2,21.25,21.31,21.37,21.43,21.49,21.55,21.62,21.68,21.74,21.81,21.88,21.95,22.03,22.1,22.18,22.27,22.34,22.42,22.5,22.58,22.64,22.7,22.78,22.84,22.89,22.94,22.97,
 24.94,24.99,25.04,25.09,25.13,25.17,25.23,25.29,
 27.36,27.4,27.44,27.48,27.54,27.6,27.64,27.7,27.76,27.82,27.87,27.93,28.0,28.1,28.17,28.24,28.3,28.36,28.42,28.48,28.55,28.62,
 29.13,29.16,29.2,29.26,29.33,29.39,29.44,29.5,29.59,29.65,29.7,29.76,29.81,29.87,29.93,30.0,30.05,
 30.34,30.38,30.42,30.45,30.5,30.57,30.63,30.7,30.77,30.83,30.89,30.96,31.04,31.08]
u_fix_v = [-.278,-.044,-.03,-.01,.0,.011,-.015,-.02,-.044,.0,.039,.02,.011,-.02,-.079,-.003,-.038,-.072,-.06,
 .011,-.015,.02,.032,.0,.02,-.024,-.035,-.044,
 -.058,-.07,-.08,-.1,-.09,-.085,-.072,-.075,-.09,-.085,-.1,-.085,-.078,-.085,-.072,-.09,-.075,-.1,-.128,-.09,-.075,-.07,-.051,-.06,-.079,-.065,-.04,.015,.008,-.01,-.003,-.015,-.024,-.086,-.058,-.01,-.02,.004,-.051,-.015,-.01,-.005,.011,-.005,-.01,-.005,-.024,.0,.018,-.01,.0,.02,.05,.074,.06,.039,.015,-.031,.0,.025,.032,.02,-.01,-.038,.0,.025,.01,.02,-.015,.029,.01,-.008,-.031,-.01,.018,-.005,-.031,.005,.011,-.015,-.01,
 -.16,-.19,-.222,-.269,-.44,-.468,-.42,-.39,-.4,-.37,-.343,-.33,-.315,-.345,-.32,-.33,-.315,-.33,-.325,-.35,
 .046,.02,.067,.05,.025,.035,-.003,.0,-.017,-.03,-.005,.032,.01,-.015,-.038,-.015,-.017,-.03,-.01,-.038,-.025,.011,-.02,-.044,-.01,.032,.02,.04,.067,.035,.004,
 .081,.07,.078,.067,.05,.018,.04,.046,
 -.051,-.07,-.09,-.107,-.08,-.072,-.055,-.06,-.05,-.065,-.038,-.06,-.05,-.072,-.05,-.05,-.035,-.04,-.01,-.025,-.035,-.058,
 -.003,-.04,-.02,-.03,-.035,-.025,-.017,-.03,-.065,-.04,-.01,-.005,.032,-.01,.0,.01,.004,
 -.038,-.02,-.01,-.003,-.015,-.058,-.05,-.06,-.086,-.06,-.044,-.06,-.072,-.06]
u_fix2_t = [7.38,7.44,7.5,7.57,7.62,7.68,7.74,7.8,7.86,7.91,7.96,8.0,8.04,8.08,8.12,8.16,
 9.28,9.32,9.37,9.41,9.45,9.49,9.53,9.57,
 10.03,10.09,10.15,10.2,10.27,10.33,10.4,10.47,10.53,10.63,10.7,10.76,10.82,10.87,10.93,10.99,11.05,11.1,11.16,11.23,11.29,11.35,11.41,11.48,11.53,11.59,11.65,11.7,11.76,11.81,11.87,11.97,12.05,12.15,12.22,12.28,12.35,12.41,12.47,12.53,12.59,12.66,12.74,12.82,12.91,12.99,13.05,13.12,13.18,13.25,13.3,13.36,13.44,13.52,13.57,13.63,13.69,13.74,13.8,13.88,13.96,14.03,14.09,14.16,14.23,14.3,14.37,14.43,14.49,14.55,14.62,14.68,14.74,14.8,14.85,14.93,14.98,
 15.17,15.21,15.23,15.25,15.27,15.31,15.36,15.4,15.44,15.48,15.52,15.55,
 21.04,21.1,21.17,21.22,21.28,21.34,21.4,21.46,21.52,21.58,21.65,21.71,21.77,21.84,21.91,21.99,22.06,22.14,22.22,22.3,22.38,22.46,22.54,22.61,22.67,22.74,22.81,22.87,22.92,
 24.96,25.01,25.06,25.11,25.15,25.2,25.26,
 27.38,27.42,27.46,27.51,27.57,27.62,27.67,27.73,27.79,27.85,27.9,27.96,28.03,28.07,28.13,28.2,28.27,28.33,28.39,28.45,28.52,28.58,
 29.14,29.18,29.23,29.29,29.36,29.42,29.47,29.53,29.62,29.68,29.73,29.79,29.84,29.9,29.96,30.03,
 30.36,30.4,30.44,30.48,30.53,30.6,30.66,30.73,30.8,30.86,30.92,31.0,31.06]
u_fix2_v = [-.04,-.03,-.02,-.01,-.03,-.035,-.02,.02,.025,.0,-.01,-.04,-.05,-.02,-.06,-.07,
 -.005,.0,.02,.015,.0,-.01,-.03,-.04,
 -.07,-.085,-.09,-.08,-.08,-.075,-.085,-.08,-.09,-.09,-.08,-.08,-.08,-.08,-.085,-.09,-.11,-.1,-.08,-.08,-.06,-.055,-.07,-.07,-.05,-.01,.01,-.005,-.01,-.01,-.02,-.03,-.03,-.015,-.005,-.02,-.03,-.01,-.005,.005,.0,-.005,-.005,-.015,-.01,.01,.005,-.005,.01,.035,.06,.065,.05,.03,.0,-.015,.01,.03,.025,.0,-.02,-.01,.015,.015,.0,.005,.02,.015,.0,-.015,-.015,.01,.005,-.015,-.01,-.005,-.005,
 -.45,-.41,-.385,-.36,-.345,-.33,-.335,-.325,-.33,-.32,-.34,-.335,
 .04,.05,.06,.04,.02,.015,-.005,-.01,-.01,-.015,.01,.02,.0,-.02,-.025,-.02,-.02,-.02,-.02,-.03,-.01,-.01,-.03,-.03,.01,.025,.02,.04,.05,
 .075,.07,.065,.06,.04,.03,.04,
 -.07,-.08,-.09,-.07,-.075,-.07,-.065,-.055,-.06,-.05,-.055,-.055,-.055,-.06,-.055,-.05,-.045,-.04,-.03,-.02,-.03,-.045,
 -.02,-.03,-.025,-.02,-.03,-.02,-.025,-.03,-.04,-.02,-.005,.01,.01,.0,.005,.005,
 -.03,-.015,-.01,-.02,-.04,-.05,-.055,-.06,-.07,-.055,-.05,-.06,-.065]

TAN = "#B9B58E"
GREEN = "#00FF00"
AXC = "#333333"
W, H = 1167, 875
FONT = "DejaVu Sans"
XR = [6.987, 31.11]
MSIZE = 7.6
PANELS = [
    dict(top=43, bot=278, rng=[-0.39, 0.393], ticks=N_TICKS, text=N_TICKTEXT, label="N Err (m)", name=N_NAME,
         ft=n_float_t + n_float2_t, fv=n_float_v + n_float2_v, gt=n_fix_t + n_fix2_t, gv=n_fix_v + n_fix2_v,
         box=(621, 55, 1127, 87), ln="legend"),
    dict(top=297, bot=533, rng=[-0.393, 0.393], ticks=E_TICKS, text=E_TICKTEXT, label="E Err (m)", name=E_NAME,
         ft=e_float_t + e_float2_t, fv=e_float_v + e_float2_v, gt=e_fix_t + e_fix2_t, gv=e_fix_v + e_fix2_v,
         box=(623, 309, 1127, 341), ln="legend2"),
    dict(top=552, bot=788, rng=[-0.49, 0.488], ticks=U_TICKS, text=U_TICKTEXT, label="U Err (m)", name=U_NAME,
         ft=u_float_t + u_float2_t, fv=u_float_v + u_float2_v, gt=u_fix_t + u_fix2_t, gv=u_fix_v + u_fix2_v,
         box=(621, 562, 1127, 595), ln="legend3"),
]

fig = go.Figure()
layout = dict(width=W, height=H, margin=dict(l=0, r=0, t=0, b=0), paper_bgcolor="white", plot_bgcolor="white",
              font=dict(family=FONT, color="#262626", size=20), autosize=False)
shapes = []
for i, p in enumerate(PANELS, 1):
    s = "" if i == 1 else str(i)
    fig.add_trace(go.Scatter(x=p["ft"], y=p["fv"], mode="markers", name=p["name"], legend=p["ln"],
                             marker=dict(color=TAN, size=MSIZE, line=dict(width=0)), xaxis="x" + s, yaxis="y" + s))
    fig.add_trace(go.Scatter(x=p["gt"], y=p["gv"], mode="markers", showlegend=False,
                             marker=dict(color=GREEN, size=MSIZE, line=dict(width=0)), xaxis="x" + s, yaxis="y" + s))
    last = i == 3
    layout["xaxis" + s] = dict(domain=[116.5 / W, 1144.2 / W], range=XR, anchor="y" + s, tickmode="array", tickvals=X_TICKS,
                               ticktext=[str(v) for v in X_TICKS], showticklabels=last, ticks="inside", ticklen=10, tickwidth=1.8,
                               tickcolor=AXC, showline=True, linewidth=1.8, linecolor=AXC, mirror="ticks", showgrid=True,
                               gridcolor="#E0E0E0", gridwidth=2, zeroline=False, tickfont=dict(size=20), ticklabelstandoff=2,
                               title=dict(text=XLABEL, font=dict(size=23), standoff=12) if last else None)
    layout["yaxis" + s] = dict(domain=[1 - (p["bot"] - .5) / H, 1 - (p["top"] + .5) / H], range=p["rng"], anchor="x" + s, tickmode="array",
                               tickvals=p["ticks"], ticktext=p["text"], ticks="inside", ticklen=10, tickwidth=1.8, tickcolor=AXC,
                               showline=True, linewidth=1.8, linecolor=AXC, mirror="ticks", showgrid=True, gridcolor="#E0E0E0",
                               gridwidth=2, zeroline=False, tickfont=dict(size=20),
                               title=dict(text=p["label"], font=dict(size=23), standoff=10))
    x0, y0, x1, y1 = p["box"]
    shapes.append(dict(type="rect", xref="paper", yref="paper", x0=x0 / W, x1=x1 / W, y0=1 - y1 / H, y1=1 - y0 / H,
                       fillcolor="white", line=dict(color=AXC, width=1.8), layer="above"))
    layout[p["ln"]] = dict(x=x0 / W, y=1 - ((y0 + y1) / 2) / H, xanchor="left", yanchor="middle", bgcolor="rgba(0,0,0,0)", borderwidth=0,
                           font=dict(size=18.7, color="#111111"), itemwidth=68, itemclick=False, itemdoubleclick=False)
layout["shapes"] = shapes
layout["title"] = dict(text="<b>" + TITLE + "</b>", x=630.5 / W, xanchor="center", y=1 - 22 / H, yanchor="middle",
                       font=dict(size=23, color="#111111"))
fig.update_layout(**layout)
fig.write_html("out.html", config={"displayModeBar": False}, post_script="document.body.style.margin='0';")
